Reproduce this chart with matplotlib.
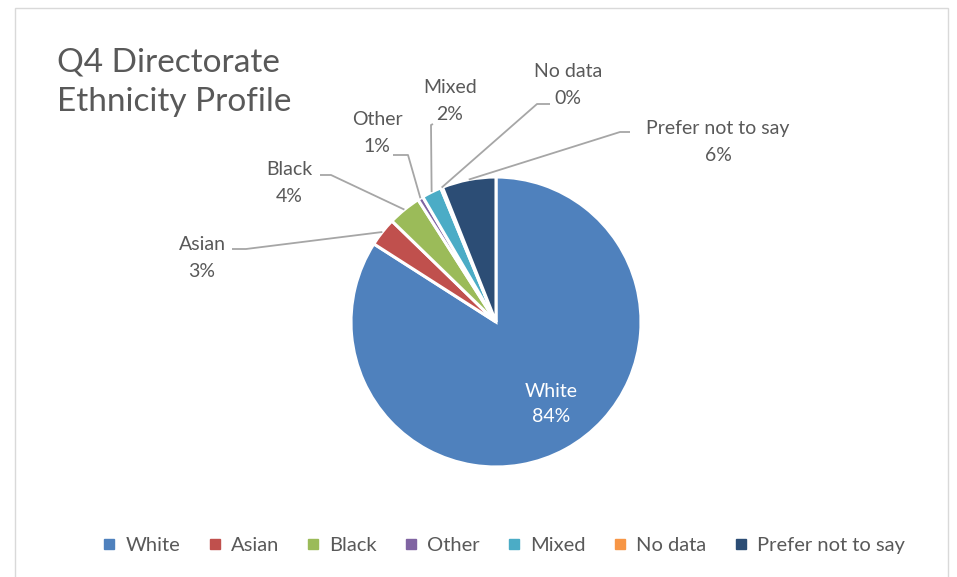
import matplotlib
matplotlib.use('Agg')
import matplotlib.pyplot as plt
import numpy as np
from matplotlib.lines import Line2D

# data
CATEGORIES = ['White', 'Asian', 'Black', 'Other', 'Mixed', 'No data', 'Prefer not to say']
VALUES = [83.8, 3.2, 3.7, 0.6, 2.2, 0.2, 6.0]
COLORS = ['#4F81BD', '#C0504D', '#9BBB59', '#8064A2', '#4BACC6', '#F79646', '#2C4D75']
TITLE = 'Q4 Directorate\nEthnicity Profile'

plt.rcParams['font.family'] = ['Lato', 'DejaVu Sans']
TXT = '#595959'
W, H = 957, 577

fig = plt.figure(figsize=(W / 100, H / 100), dpi=100)

# chart frame
fig.add_artist(plt.Rectangle((15 / W, -0.01), (948 - 15) / W, (H - 8) / H + 0.01,
                             transform=fig.transFigure, fill=False, ec='#d9d9d9', lw=1))

# pie axes, centre (496, 322) px, radius 145 px
cx, cy, r = 496, 322, 145
ax = fig.add_axes([(cx - r) / W, (H - cy - r) / H, 2 * r / W, 2 * r / H])
wedges, _ = ax.pie(VALUES, colors=COLORS, startangle=90, counterclock=False, radius=1,
                   wedgeprops=dict(edgecolor='white', linewidth=2.2))
ax.set_xlim(-1, 1)
ax.set_ylim(-1, 1)
ax.set_aspect('equal')
ax.axis('off')


def px(x, y):
    # pixel -> data coords of the pie axes
    return (x - cx) / r, (cy - y) / r


total = sum(VALUES)
pct = [f'{round(v / total * 100)}%' for v in VALUES]

# label text centres and leader line (anchor, elbow) in pixels
label_pos = {
    'Asian': ((202, 258), (232, 249), (246, 249)),
    'Black': ((289, 183), (320, 175), (331, 175)),
    'Other': ((377, 133), (393, 155), (408, 155)),
    'Mixed': ((450, 101), (433, 124), (431, 125)),
    'No data': ((568, 85), (550, 104), (537, 104)),
    'Prefer not to say': ((718, 142), (630, 132), (620, 132)),
}

for w, name, p in zip(wedges, CATEGORIES, pct):
    if name == 'White':
        ax.text(*px(551, 404), f'{name}\n{p}', ha='center', va='center', color='white',
                fontsize=14, linespacing=1.6)
        continue
    (tx, ty), anchor, elbow = label_pos[name]
    mid = np.deg2rad((w.theta1 + w.theta2) / 2)
    ex, ey = np.cos(mid), np.sin(mid)
    ax_, ay_ = px(*anchor)
    bx, by = px(*elbow)
    ax.plot([ax_, bx, ex], [ay_, by, ey], color='#a6a6a6', lw=1.3, clip_on=False,
            solid_capstyle='butt')
    ax.text(*px(tx, ty), f'{name}\n{p}', ha='center', va='center', color=TXT,
            fontsize=14, linespacing=1.7)

fig.text(57 / W, 1 - 82 / H, TITLE, ha='left', va='center', fontsize=24, color=TXT,
         linespacing=1.4)

handles = [Line2D([0], [0], marker='s', ls='none', color=c, markersize=7) for c in COLORS]
fig.legend(handles, CATEGORIES, loc='center', bbox_to_anchor=(503 / W, 1 - 545 / H), ncol=7,
           frameon=False, fontsize=14.5, handlelength=0.8, handletextpad=0.4,
           columnspacing=1.3, labelcolor=TXT)

fig.savefig('out.png', dpi=100)
